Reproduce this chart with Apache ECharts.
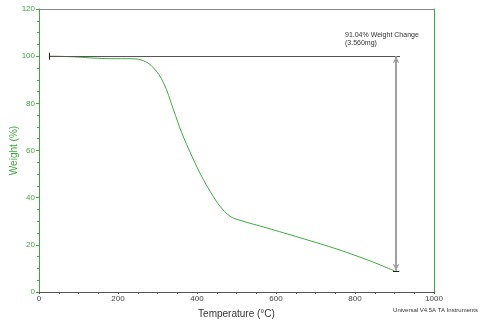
<!DOCTYPE html>
<html>
<head>
<meta charset="utf-8">
<script src="https://cdn.jsdelivr.net/npm/echarts@6/dist/echarts.min.js"></script>
<style>
  html, body { margin: 0; padding: 0; background: #fff; }
  #chart { width: 480px; height: 323px; }
</style>
</head>
<body>
<div id="chart"></div>
<script>
// TGA curve
var temps   = [25, 60, 100, 137, 180, 238, 265, 289, 315, 340, 361, 387, 416, 441, 458, 484, 509, 576, 661, 745, 830, 900];
var weights = [100, 99.9, 99.6, 99.2, 98.95, 98.9, 98.0, 95.2, 88.8, 77.5, 67.7, 57.6, 47.7, 40.6, 36.4, 32.1, 30.4, 27.2, 23.0, 18.7, 13.7, 8.96];

var startT = 25, endT = 904, lineEndT = 914;
var topW = 100, bottomW = 8.96;
var changeText = ["91.04% Weight Change", "(3.560mg)"];

var green = "#3daa3d";
var dark = "#555555";
var font = "Liberation Sans";

var chart = echarts.init(document.getElementById("chart"));

var curve = [];
for (var i = 0; i < temps.length; i++) curve.push([temps[i], weights[i]]);

var option = {
  animation: false,
  textStyle: { fontFamily: font },
  grid: { left: 39, right: 46, top: 9, bottom: 31, containLabel: false, outerBoundsMode: "none" },
  xAxis: [{
    type: "value", min: 0, max: 1000, interval: 200,
    name: "Temperature (°C)", nameLocation: "middle", nameGap: 17,
    nameTextStyle: { color: "#333", fontSize: 10 },
    axisLine: { lineStyle: { color: dark } },
    axisTick: { length: 2, lineStyle: { color: dark } },
    minorTick: { show: true, splitNumber: 4, length: 2, lineStyle: { color: dark } },
    axisLabel: { color: "#444", fontSize: 8, margin: 3, formatter: function (v) { return String(v); } },
    splitLine: { show: false }
  }, {
    type: "value", min: 0, max: 1000, position: "top",
    axisLine: { show: true, onZero: false, lineStyle: { color: "#888" } },
    axisTick: { show: false }, axisLabel: { show: false }, splitLine: { show: false }
  }],
  yAxis: [{
    type: "value", min: 0, max: 120, interval: 20,
    name: "Weight (%)", nameLocation: "middle", nameGap: 20, nameMoveOverlap: false,
    nameTextStyle: { color: green, fontSize: 10 },
    axisLine: { lineStyle: { color: green } },
    axisTick: { length: 3, lineStyle: { color: green } },
    minorTick: { show: true, splitNumber: 4, length: 2, lineStyle: { color: green } },
    axisLabel: { color: green, fontSize: 8, margin: 4 },
    splitLine: { show: false }
  }, {
    type: "value", min: 0, max: 120, position: "right",
    axisLine: { show: true, onZero: false, lineStyle: { color: green } },
    axisTick: { show: false }, axisLabel: { show: false }, splitLine: { show: false }
  }],
  series: [{
    type: "line",
    data: curve,
    smooth: 0.4,
    showSymbol: false,
    lineStyle: { color: green, width: 1 },
    markLine: {
      silent: true,
      symbol: ["none", "none"],
      label: { show: false },
      data: [
        [{ coord: [startT, topW], lineStyle: { color: dark, width: 1, type: "solid" } },
         { coord: [lineEndT, topW] }],
        [{ coord: [startT, topW - 1.5], lineStyle: { color: "#222", width: 1, type: "solid" } },
         { coord: [startT, topW + 1.5] }],
        [{ coord: [endT - 8, bottomW], lineStyle: { color: "#222", width: 1, type: "solid" } },
         { coord: [endT + 8, bottomW] }],
        [{ coord: [endT, topW], symbol: "arrow", symbolSize: [5, 7],
           lineStyle: { color: "#a0a0a0", width: 2, type: "solid" } },
         { coord: [endT, bottomW], symbol: "arrow", symbolSize: [5, 7] }]
      ]
    }
  }],
  graphic: [{
    type: "text", left: 345, top: 31,
    style: { text: changeText.join("\n"), fill: "#333", font: "7px " + font, lineHeight: 8 }
  }, {
    type: "text", right: 2, top: 307,
    style: { text: "Universal V4.5A TA Instruments", fill: "#333", font: "6px " + font }
  }]
};

chart.setOption(option);
</script>
</body>
</html>
